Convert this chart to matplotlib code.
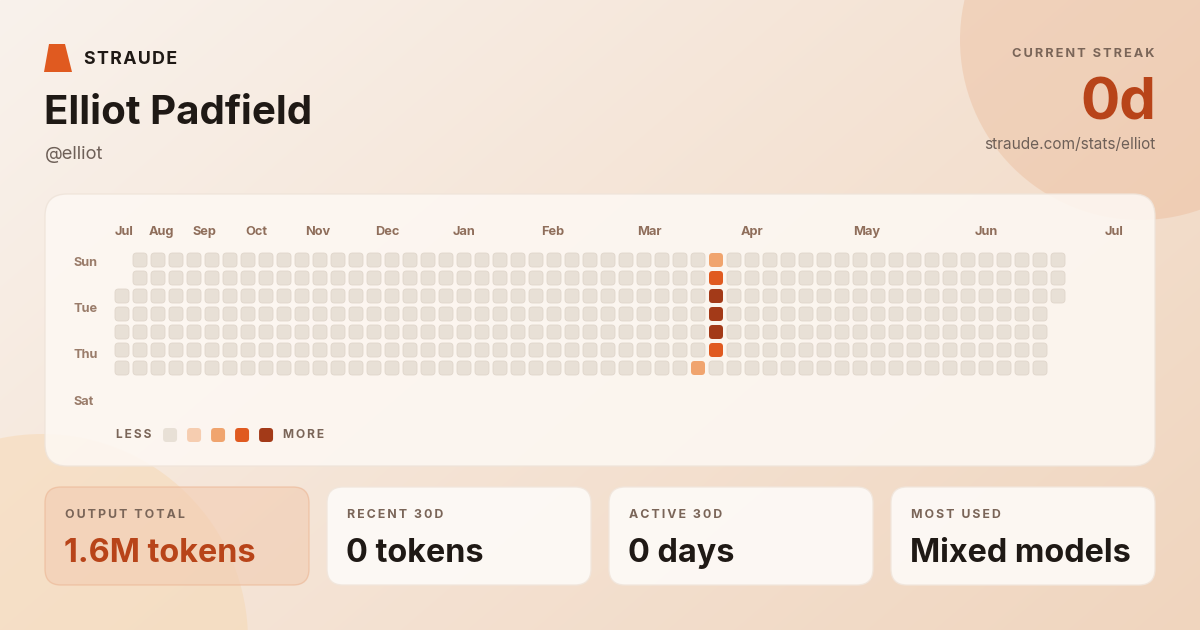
import numpy as np
import matplotlib
matplotlib.use("Agg")
import matplotlib.pyplot as plt
from matplotlib.patches import FancyBboxPatch, Circle, Polygon

plt.rcParams["font.family"] = ["Inter", "DejaVu Sans"]

# ---------------- data ----------------
brand = "STRAUDE"
user_name = "Elliot Padfield"
user_handle = "@elliot"
streak_label = "CURRENT STREAK"
streak_value = "0d"
profile_url = "straude.com/stats/elliot"

n_weeks = 53
first_week_start_day = 2      # first week starts on Tue
last_week_days = 3            # last week has Sun..Tue
active_weeks = [32, 33, 33, 33, 33, 33, 33]
active_days = [6, 0, 1, 2, 3, 4, 5]
active_levels = [2, 2, 3, 4, 4, 4, 3]

month_labels = ["Jul", "Aug", "Sep", "Oct", "Nov", "Dec", "Jan", "Feb",
                "Mar", "Apr", "May", "Jun", "Jul"]
month_pos = [0.0, 1.89, 4.33, 7.22, 10.56, 14.44, 18.78, 23.67,
             29.0, 34.78, 41.0, 47.78, 55.0]
day_labels = ["Sun", "Tue", "Thu", "Sat"]
day_pos = [0.48, 3.0, 5.58, 8.17]

level_colors = ["#E8E0D6", "#F6CDB0", "#F0A46E", "#E05A20", "#A33A18"]
legend_levels = [0, 1, 2, 3, 4]

stat_labels = ["OUTPUT TOTAL", "RECENT 30D", "ACTIVE 30D", "MOST USED"]
stat_values = ["1.6M tokens", "0 tokens", "0 days", "Mixed models"]

# ---------------- styling ----------------
W, H = 1200, 630
DARK = "#1F1915"
MUTED = "#7A6558"
LABEL = "#8F6E5B"
ACCENT = "#B84419"
HS = "\u200a"


def spaced(s, n=1):
    return (HS * n).join(s)


fig = plt.figure(figsize=(12, 6.3), dpi=100)

# background axes in pixel coordinates
bg = fig.add_axes([0, 0, 1, 1])
bg.set_xlim(0, W)
bg.set_ylim(H, 0)
bg.axis("off")

yy, xx = np.mgrid[0:H, 0:W]
t = np.clip(xx / W * 0.62 + yy / H * 0.38, 0, 1)[..., None]
c0 = np.array([249, 242, 236]) / 255
c1 = np.array([240, 213, 190]) / 255
grad = c0 * (1 - t) + c1 * t
bg.imshow(grad, extent=(0, W, H, 0), zorder=0, aspect="auto")

bg.add_patch(Circle((1140, 40), 180, facecolor="#E9B08A", alpha=0.33,
                    edgecolor="none", zorder=1))
bg.add_patch(Circle((42, 640), 206, facecolor="#F6D6AE", alpha=0.45,
                    edgecolor="none", zorder=1))

# brand logo
bg.add_patch(Polygon([(49, 44), (65, 44), (72, 72), (44, 72)], closed=True,
                     facecolor="#E05A20", edgecolor="none", zorder=3))
bg.text(84, 64, spaced(brand), fontsize=12.8, fontweight="bold", color=DARK,
        va="baseline", ha="left", zorder=3)
bg.text(44, 124.5, user_name, fontsize=29, fontweight="bold", color=DARK,
        va="baseline", ha="left", zorder=3)
bg.text(45, 159, user_handle, fontsize=13.2, color="#6E6058",
        va="baseline", ha="left", zorder=3)

bg.text(1155, 57, spaced(streak_label, 2), fontsize=9.2, fontweight="bold",
        color=MUTED, va="baseline", ha="right", zorder=3)
bg.text(1156, 120, streak_value, fontsize=42, fontweight="bold", color=ACCENT,
        va="baseline", ha="right", zorder=3)
bg.text(1155, 149, profile_url, fontsize=11.1, color="#6E6058",
        va="baseline", ha="right", zorder=3)

# main panel
bg.add_patch(FancyBboxPatch((45, 194), 1110, 272,
                            boxstyle="round,pad=0,rounding_size=22",
                            facecolor="#FDF8F3", alpha=0.88,
                            edgecolor="#EFE4DA", linewidth=1.0, zorder=2))

# stat cards
card_x = [45 + i * 282 for i in range(4)]
for i, (lab, val) in enumerate(zip(stat_labels, stat_values)):
    if i == 0:
        fc, ec, alpha, vc = "#F2CDB3", "#ECB796", 0.62, ACCENT
    else:
        fc, ec, alpha, vc = "#FEFBF8", "#F1E6DC", 0.9, DARK
    bg.add_patch(FancyBboxPatch((card_x[i], 487), 264, 98,
                                boxstyle="round,pad=0,rounding_size=16",
                                facecolor=fc, alpha=alpha, edgecolor=ec,
                                linewidth=1.0, zorder=2))
    bg.text(card_x[i] + 20, 518, spaced(lab, 2), fontsize=8.9,
            fontweight="bold", color=MUTED, va="baseline", ha="left", zorder=3)
    bg.text(card_x[i] + 19, 562, val, fontsize=23.3, fontweight="bold",
            color=vc, va="baseline", ha="left", zorder=3)

# ---------------- heatmap axes (data units: weeks x weekdays) ----------------
PX = 18.0
x_lo, x_hi = -3.0, 57.0
y_top, y_bot = -1.5, 11.0
left_px = 115 + x_lo * PX
right_px = 115 + x_hi * PX
top_px = 253 + y_top * PX
bot_px = 253 + y_bot * PX
ax = fig.add_axes([left_px / W, 1 - bot_px / H,
                   (right_px - left_px) / W, (bot_px - top_px) / H])
ax.set_xlim(x_lo, x_hi)
ax.set_ylim(y_bot, y_top)
ax.axis("off")
ax.patch.set_alpha(0)

grid = np.zeros((7, n_weeks))
grid[:first_week_start_day, 0] = np.nan
grid[last_week_days:, n_weeks - 1] = np.nan
for w, d, lv in zip(active_weeks, active_days, active_levels):
    grid[d, w] = lv

cs = 14.0 / PX
rs = 3.5 / PX
for d in range(7):
    for w in range(n_weeks):
        v = grid[d, w]
        if np.isnan(v):
            continue
        lv = int(v)
        ec = "#E0D6CB" if lv == 0 else "none"
        ax.add_patch(FancyBboxPatch((w, d), cs, cs,
                                    boxstyle=f"round,pad=0,rounding_size={rs}",
                                    facecolor=level_colors[lv], edgecolor=ec,
                                    linewidth=0.6, clip_on=False))

for lab, p in zip(month_labels, month_pos):
    ax.text(p, -1.0, lab, fontsize=9.2, fontweight="bold", color=LABEL,
            ha="left", va="baseline")
for lab, p in zip(day_labels, day_pos):
    ax.text(-2.33, p + 0.1, lab, fontsize=9.2, fontweight="bold", color="#9A7C6A",
            ha="left", va="center")

# legend
leg_x0 = 2.67
leg_step = 24.0 / PX
leg_y = (428 - 253) / PX
for k, lv in enumerate(legend_levels):
    ax.add_patch(FancyBboxPatch((leg_x0 + k * leg_step, leg_y), cs, cs,
                                boxstyle=f"round,pad=0,rounding_size={rs}",
                                facecolor=level_colors[lv], edgecolor="none",
                                clip_on=False))
ax.text(2.0, leg_y + cs / 2, spaced("LESS", 2), fontsize=8.6, fontweight="bold",
        color=MUTED, ha="right", va="center")
ax.text(9.33, leg_y + cs / 2, spaced("MORE", 2), fontsize=8.6, fontweight="bold",
        color=MUTED, ha="left", va="center")

fig.savefig("out.png", dpi=100)
